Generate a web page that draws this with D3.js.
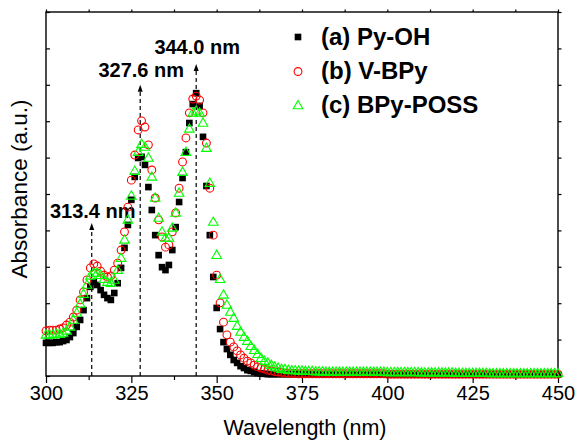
<!DOCTYPE html>
<html>
<head>
<meta charset="utf-8">
<script src="https://cdn.jsdelivr.net/npm/d3@7"></script>
<style>
  html, body { margin: 0; padding: 0; background: #fff; }
  svg { display: block; font-family: "Liberation Sans", Arial, Helvetica, sans-serif; }
</style>
</head>
<body>
<svg id="chart" width="577" height="443"></svg>
<script>
// ---- data ----
const wavelengths = d3.range(300, 451, 1);

const pyOH = [
  0.091,0.091,0.091,0.093,0.093,0.096,0.099,0.107,0.118,0.135,
  0.154,0.181,0.214,0.245,0.258,0.250,0.236,0.223,0.214,0.209,
  0.228,0.255,0.297,0.352,0.415,0.484,0.547,0.599,0.602,0.580,
  0.519,0.456,0.387,0.332,0.299,0.291,0.305,0.346,0.409,0.478,
  0.544,0.615,0.695,0.747,0.777,0.742,0.657,0.522,0.387,0.272,
  0.187,0.129,0.093,0.074,0.058,0.044,0.036,0.027,0.022,0.016,
  0.014,0.011,0.008,0.007,0.006,0.005,0.005,0.005,0.005,0.005,
  0.005,0.005,0.005,0.005,0.005,0.005,0.005,0.005,0.005,0.005,
  0.004,0.004,0.004,0.004,0.004,0.004,0.004,0.004,0.004,0.004,
  0.004,0.004,0.004,0.004,0.004,0.004,0.004,0.004,0.004,0.004,
  0.004,0.004,0.004,0.004,0.004,0.004,0.004,0.004,0.004,0.004,
  0.004,0.004,0.004,0.004,0.004,0.004,0.004,0.004,0.004,0.004,
  0.004,0.004,0.004,0.004,0.004,0.004,0.004,0.004,0.004,0.004,
  0.004,0.004,0.004,0.004,0.004,0.004,0.004,0.004,0.004,0.004,
  0.004,0.004,0.004,0.004,0.004,0.004,0.004,0.004,0.004,0.004,
  0.004
];

const vBPy = [
  0.124,0.126,0.126,0.126,0.129,0.132,0.140,0.148,0.162,0.181,
  0.209,0.231,0.264,0.297,0.308,0.302,0.288,0.277,0.272,0.275,
  0.291,0.310,0.346,0.396,0.464,0.538,0.607,0.676,0.701,0.684,
  0.635,0.566,0.489,0.429,0.382,0.354,0.360,0.396,0.448,0.516,
  0.588,0.654,0.723,0.761,0.769,0.758,0.723,0.640,0.516,0.387,
  0.277,0.201,0.148,0.113,0.093,0.080,0.069,0.058,0.049,0.041,
  0.036,0.030,0.025,0.022,0.019,0.016,0.014,0.012,0.011,0.010,
  0.008,0.008,0.007,0.007,0.006,0.006,0.006,0.006,0.006,0.006,
  0.006,0.006,0.006,0.006,0.006,0.006,0.006,0.006,0.006,0.006,
  0.006,0.006,0.006,0.006,0.006,0.006,0.006,0.006,0.006,0.006,
  0.005,0.005,0.005,0.005,0.005,0.005,0.005,0.005,0.005,0.005,
  0.005,0.005,0.005,0.005,0.005,0.005,0.005,0.005,0.005,0.005,
  0.005,0.005,0.005,0.005,0.005,0.005,0.005,0.005,0.005,0.005,
  0.005,0.005,0.005,0.005,0.005,0.005,0.005,0.005,0.005,0.005,
  0.005,0.005,0.005,0.005,0.005,0.005,0.005,0.005,0.005,0.005,
  0.005
];

const bPyPOSS = [
  0.113,0.113,0.113,0.115,0.115,0.118,0.124,0.135,0.154,0.173,
  0.198,0.225,0.250,0.275,0.283,0.283,0.277,0.266,0.258,0.255,
  0.264,0.291,0.324,0.374,0.429,0.495,0.563,0.615,0.637,0.629,
  0.599,0.547,0.489,0.434,0.396,0.379,0.379,0.407,0.448,0.503,
  0.560,0.615,0.679,0.723,0.728,0.723,0.695,0.626,0.530,0.423,
  0.332,0.266,0.223,0.195,0.176,0.159,0.137,0.121,0.107,0.096,
  0.082,0.071,0.060,0.049,0.041,0.036,0.030,0.025,0.022,0.019,
  0.018,0.016,0.015,0.015,0.014,0.014,0.013,0.013,0.013,0.012,
  0.012,0.012,0.011,0.011,0.011,0.011,0.011,0.011,0.011,0.011,
  0.011,0.011,0.011,0.011,0.011,0.011,0.011,0.011,0.011,0.011,
  0.010,0.010,0.010,0.010,0.010,0.010,0.010,0.010,0.010,0.010,
  0.009,0.009,0.009,0.009,0.009,0.009,0.009,0.009,0.009,0.009,
  0.008,0.008,0.008,0.008,0.008,0.008,0.008,0.008,0.008,0.008,
  0.007,0.007,0.007,0.007,0.007,0.007,0.007,0.007,0.007,0.007,
  0.007,0.007,0.007,0.007,0.007,0.007,0.007,0.007,0.007,0.007,
  0.007
];

const seriesNames = ["(a) Py-OH", "(b) V-BPy", "(c) BPy-POSS"];
const seriesColors = ["#000000", "#ff0000", "#00ff00"];
const peakPositions = [313.4, 327.6, 344.0];
const peakLabels = ["313.4 nm", "327.6 nm", "344.0 nm"];
const peakArrowTips = [0.42, 0.80, 0.857];   // arrow tip heights (a.u.)
const peakLabelHeights = [0.435, 0.822, 0.884]; // label baseline heights (a.u.)
const xMajorTicks = [300, 325, 350, 375, 400, 425, 450];
const xMinorTicks = [312.5, 337.5, 362.5, 387.5, 412.5, 437.5];
const yTicks = [0,0.1,0.2,0.3,0.4,0.5,0.6,0.7,0.8,0.9,1.0];

// ---- layout ----
const svg = d3.select("#chart");
const L = 46, R = 558, T = 12, B = 376;
const x = d3.scaleLinear().domain([300, 450]).range([L, R]);
const y = d3.scaleLinear().domain([0, 1]).range([B, T]);

// axes
const axW = 1.4;
function styleAxis(g) {
  g.select(".domain").remove();
  g.selectAll(".tick line").attr("stroke", "#000").attr("stroke-width", 1.2);
}
svg.append("g").attr("transform", `translate(0,${B})`)
  .call(d3.axisBottom(x).tickValues(xMajorTicks).tickSize(7).tickPadding(3).tickFormat(d3.format("d")))
  .call(styleAxis)
  .call(g => g.selectAll("text").attr("font-size", 20).attr("fill", "#000").attr("font-family", "Liberation Sans, Arial, sans-serif"));
svg.append("g").attr("transform", `translate(0,${B})`)
  .call(d3.axisBottom(x).tickValues(xMinorTicks).tickSize(4).tickFormat(""))
  .call(styleAxis);
svg.append("g").attr("transform", `translate(0,${T})`)
  .call(d3.axisTop(x).tickValues(xMajorTicks.concat(xMinorTicks)).tickSize(2.5).tickFormat(""))
  .call(styleAxis);
svg.append("g").attr("transform", `translate(${L},0)`)
  .call(d3.axisLeft(y).tickValues(yTicks).tickSize(-4).tickFormat(""))
  .call(styleAxis);
svg.append("g").attr("transform", `translate(${R},0)`)
  .call(d3.axisRight(y).tickValues(yTicks).tickSize(3.5).tickFormat(""))
  .call(styleAxis);

// frame
svg.append("rect").attr("x", L).attr("y", T).attr("width", R - L).attr("height", B - T)
  .attr("fill", "none").attr("stroke", "#000").attr("stroke-width", axW);

// axis titles
svg.append("text").attr("x", (L + R) / 2 + 3).attr("y", 435).attr("text-anchor", "middle")
  .attr("font-size", 21.5).attr("fill", "#000").text("Wavelength (nm)");
svg.append("text").attr("transform", `translate(27,${(T + B) / 2 - 5}) rotate(-90)`)
  .attr("text-anchor", "middle").attr("font-size", 22.5).attr("fill", "#000").text("Absorbance (a.u.)");

// peak markers (dashed lines with arrows)
const pk = svg.append("g");
peakPositions.forEach((p, i) => {
  const px = x(p), tip = y(peakArrowTips[i]);
  pk.append("line").attr("x1", px).attr("x2", px).attr("y1", B).attr("y2", tip + 5)
    .attr("stroke", "#000").attr("stroke-width", 1.2).attr("stroke-dasharray", "4,3");
  pk.append("path").attr("d", `M${px},${tip} L${px - 2.5},${tip + 7} L${px + 2.5},${tip + 7} Z`).attr("fill", "#000");
  pk.append("text").attr("x", px + 1).attr("y", y(peakLabelHeights[i])).attr("text-anchor", "middle")
    .attr("font-size", 20).attr("font-weight", "bold").attr("fill", "#000").text(peakLabels[i]);
});

// series
const sq = d3.symbol().type(d3.symbolSquare).size(44)();
const tri = d3.symbol().type(d3.symbolTriangle).size(40)();
const allSeries = [pyOH, vBPy, bPyPOSS];

function drawMarker(g, k, cx, cy) {
  if (k === 0) {
    g.append("path").attr("d", sq).attr("transform", `translate(${cx},${cy})`).attr("fill", seriesColors[0]);
  } else if (k === 1) {
    g.append("circle").attr("cx", cx).attr("cy", cy).attr("r", 3.9)
      .attr("fill", "none").attr("stroke", seriesColors[1]).attr("stroke-width", 1.1);
  } else {
    g.append("path").attr("d", tri).attr("transform", `translate(${cx},${cy + 0.5})`)
      .attr("fill", "none").attr("stroke", seriesColors[2]).attr("stroke-width", 1.1);
  }
}

allSeries.forEach((vals, k) => {
  const g = svg.append("g");
  vals.forEach((v, i) => drawMarker(g, k, x(wavelengths[i]), y(v)));
});

// legend
const lg = svg.append("g");
const legY = [37, 71.5, 105.5];
seriesNames.forEach((name, k) => {
  drawMarker(lg, k, 298, legY[k]);
  lg.append("text").attr("x", 321).attr("y", legY[k]).attr("dy", "0.33em")
    .attr("font-size", 24).attr("font-weight", "bold").attr("fill", "#000").text(name);
});
</script>
</body>
</html>
